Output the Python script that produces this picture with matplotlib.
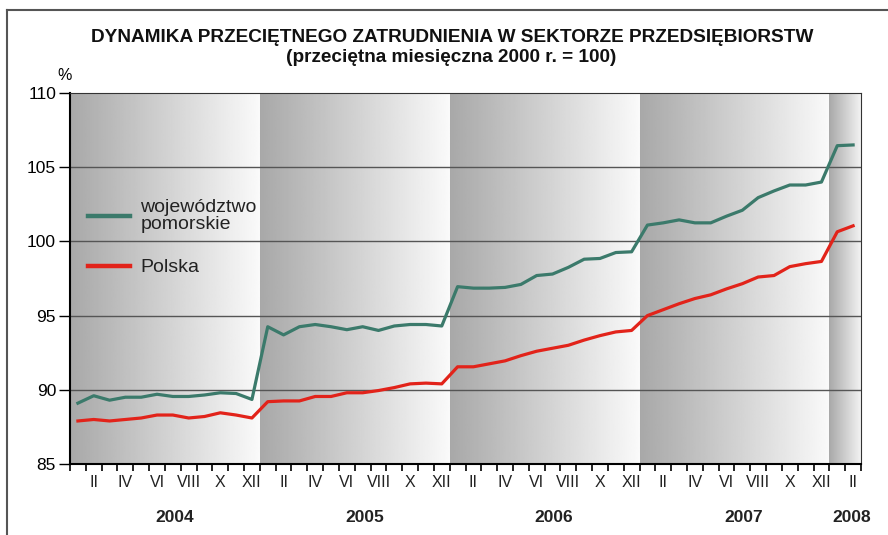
import numpy as np
import matplotlib.pyplot as plt
from matplotlib.transforms import blended_transform_factory
from matplotlib.lines import Line2D

# Dane: miesiące I.2004 - II.2008 (przeciętna miesięczna 2000 r. = 100)
years = ['2004', '2005', '2006', '2007', '2008']
month_labels = ['I', 'II', 'III', 'IV', 'V', 'VI', 'VII', 'VIII', 'IX', 'X', 'XI', 'XII']

pomorskie = [89.1, 89.6, 89.3, 89.5, 89.5, 89.7, 89.55, 89.55, 89.65, 89.8, 89.75, 89.35,
             94.25, 93.7, 94.25, 94.4, 94.25, 94.05, 94.25, 94.0, 94.3, 94.4, 94.4, 94.3,
             96.95, 96.85, 96.85, 96.9, 97.1, 97.7, 97.8, 98.25, 98.8, 98.85, 99.25, 99.3,
             101.1, 101.25, 101.45, 101.25, 101.25, 101.7, 102.1, 102.95, 103.4, 103.8, 103.8, 104.0,
             106.45, 106.5]
polska = [87.9, 88.0, 87.9, 88.0, 88.1, 88.3, 88.3, 88.1, 88.2, 88.45, 88.3, 88.1,
          89.2, 89.25, 89.25, 89.55, 89.55, 89.8, 89.8, 89.95, 90.15, 90.4, 90.45, 90.4,
          91.55, 91.55, 91.75, 91.95, 92.3, 92.6, 92.8, 93.0, 93.35, 93.65, 93.9, 94.0,
          95.0, 95.4, 95.8, 96.15, 96.4, 96.8, 97.15, 97.6, 97.7, 98.3, 98.5, 98.65,
          100.65, 101.05]

n = len(polska)
x = np.arange(n) + 0.5

plt.rcParams['font.family'] = ['Liberation Sans', 'DejaVu Sans']

fig = plt.figure(figsize=(8.88, 5.35), dpi=100)
ax = fig.add_axes([70 / 888, 71 / 535, 791 / 888, 371 / 535])

# tło - gradient dla każdego roku
grad = np.linspace(0.66, 0.98, 256).reshape(1, -1)
for k in range(len(years)):
    x0 = k * 12
    x1 = min(x0 + 12, n)
    g = grad if x1 - x0 == 12 else np.linspace(0.66, 0.95, 256).reshape(1, -1)
    ax.imshow(g, cmap='gray', vmin=0, vmax=1, aspect='auto',
              extent=[x0, x1, 85, 110], zorder=0)

for v in [90, 95, 100, 105]:
    ax.axhline(v, color='#555555', lw=1.0, zorder=1)

ax.plot(x, pomorskie, color='#3b7a6b', lw=2.3, zorder=3)
ax.plot(x, polska, color='#e2231a', lw=2.3, zorder=3)

ax.set_xlim(0, n)
ax.set_ylim(85, 110)
ax.set_yticks([85, 90, 95, 100, 105, 110])
ax.set_yticklabels(['85', '90', '95', '100', '105', '110'], fontsize=12.5)
ax.tick_params(axis='y', length=8, width=1, pad=2)

ax.set_xticks(np.arange(0, n + 1))
ax.set_xticklabels([])
ax.tick_params(axis='x', length=5, width=1.2, direction='out')

trans = blended_transform_factory(ax.transData, ax.transAxes)
for i in range(n):
    if i % 2 == 1:
        ax.text(i + 0.5, -0.05, month_labels[i % 12], transform=trans,
                ha='center', va='center', fontsize=11.5, color='#222222')
year_pos = [6.6, 18.6, 30.6, 42.6, 49.4]
for y, p in zip(years, year_pos):
    ax.text(p, -0.143, y, transform=trans, ha='center', va='center',
            fontsize=12.5, fontweight='bold', color='#222222')

for s in ['left', 'bottom']:
    ax.spines[s].set_linewidth(1.5)
for s in ['top', 'right']:
    ax.spines[s].set_linewidth(0.8)
    ax.spines[s].set_color('#333333')

# legenda
ax.add_line(Line2D([1.14, 3.79], [101.7, 101.7], color='#3b7a6b', lw=3.2, zorder=4))
ax.add_line(Line2D([1.14, 3.79], [98.35, 98.35], color='#e2231a', lw=3.2, zorder=4))
ax.text(4.45, 101.7, 'województwo\npomorskie', fontsize=14, va='center', ha='left',
        linespacing=1.0, color='#222222', zorder=4)
ax.text(4.45, 98.25, 'Polska', fontsize=14, va='center', ha='left', color='#222222', zorder=4)

fig.text(452 / 888, 1 - 38 / 535, 'DYNAMIKA PRZECIĘTNEGO ZATRUDNIENIA W SEKTORZE PRZEDSIĘBIORSTW',
         ha='center', va='center', fontsize=13.7, fontweight='bold', color='#111111')
fig.text(451 / 888, 1 - 58 / 535, '(przeciętna miesięczna 2000 r. = 100)',
         ha='center', va='center', fontsize=13.7, fontweight='bold', color='#111111')
fig.text(65 / 888, 1 - 75 / 535, '%', ha='center', va='center', fontsize=11.5)

# ramka
fig.add_artist(Line2D([7 / 888, 1], [1 - 10 / 535, 1 - 10 / 535], transform=fig.transFigure,
                      color='#555555', lw=1.5))
fig.add_artist(Line2D([7 / 888, 7 / 888], [0, 1 - 10 / 535], transform=fig.transFigure,
                      color='#555555', lw=1.5))

fig.savefig('out.png', dpi=100)
